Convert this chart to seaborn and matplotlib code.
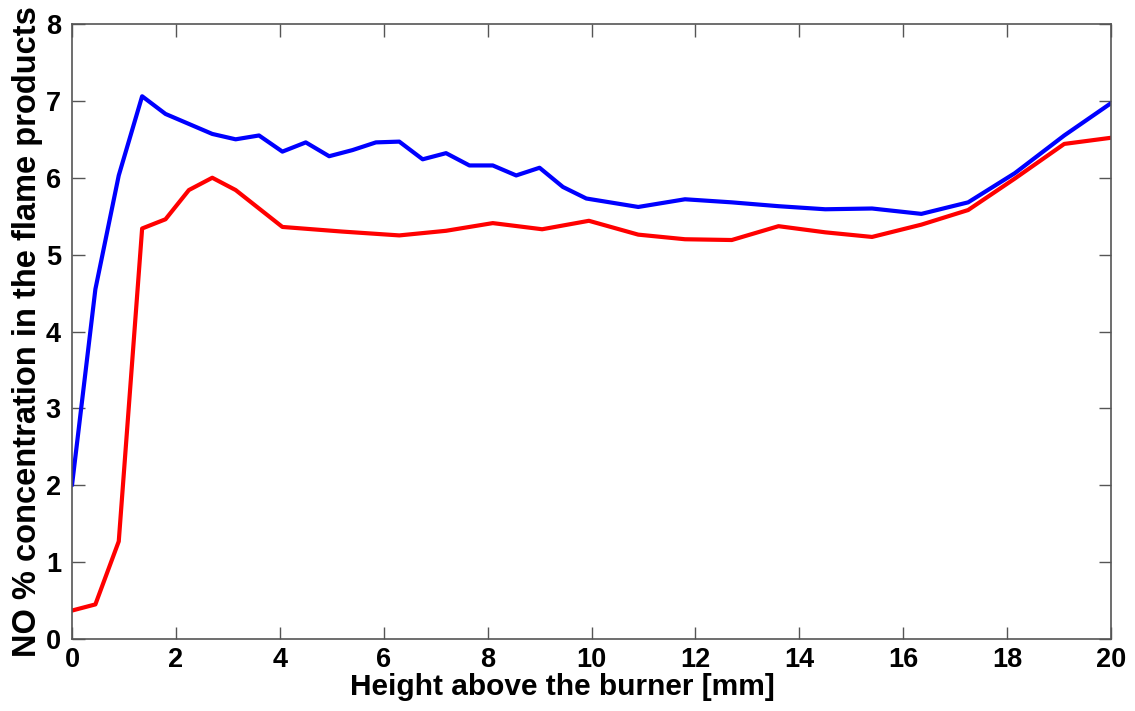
import matplotlib
matplotlib.use("Agg")
import matplotlib.pyplot as plt
import seaborn as sns
import pandas as pd

# Blue series
blue_x = [0, 0.45, 0.9, 1.35, 1.8, 2.25, 2.7, 3.15, 3.6, 4.05, 4.5, 4.95, 5.4, 5.85,
          6.3, 6.75, 7.2, 7.65, 8.1, 8.55, 9.0, 9.45, 9.9, 10.9, 11.8, 12.7, 13.6,
          14.5, 15.4, 16.35, 17.25, 18.15, 19.1, 20]
blue_y = [2.0, 4.55, 6.03, 7.06, 6.83, 6.70, 6.57, 6.50, 6.55, 6.34, 6.46, 6.28, 6.36, 6.46,
          6.47, 6.24, 6.32, 6.16, 6.16, 6.03, 6.13, 5.88, 5.73, 5.62, 5.72, 5.68, 5.63,
          5.59, 5.60, 5.53, 5.68, 6.06, 6.55, 6.97]

# Red series
red_x = [0, 0.45, 0.9, 1.35, 1.8, 2.25, 2.7, 3.15, 3.6, 4.05, 5.2, 6.3, 7.2, 8.1,
         9.05, 9.95, 10.9, 11.8, 12.7, 13.6, 14.5, 15.4, 16.35, 17.25, 18.15, 19.1, 20]
red_y = [0.37, 0.45, 1.27, 5.34, 5.46, 5.84, 6.00, 5.84, 5.60, 5.36, 5.30, 5.25, 5.31, 5.41,
         5.33, 5.44, 5.26, 5.20, 5.19, 5.37, 5.29, 5.23, 5.39, 5.58, 5.99, 6.44, 6.52]

x_ticks = [0, 2, 4, 6, 8, 10, 12, 14, 16, 18, 20]
y_ticks = [0, 1, 2, 3, 4, 5, 6, 7, 8]
x_label = "Height above the burner [mm]"
y_label = "NO % concentration in the flame products"

df = pd.concat([
    pd.DataFrame({"x": blue_x, "y": blue_y, "series": "blue"}),
    pd.DataFrame({"x": red_x, "y": red_y, "series": "red"}),
], ignore_index=True)

sns.set_style("white")
plt.rcParams["font.family"] = ["Liberation Sans", "DejaVu Sans"]
plt.rcParams["font.weight"] = "bold"
plt.rcParams["text.color"] = "black"
plt.rcParams["axes.labelcolor"] = "black"
plt.rcParams["xtick.color"] = "black"
plt.rcParams["ytick.color"] = "black"

fig = plt.figure(figsize=(11.35, 7.11), dpi=100)
ax = fig.add_axes([72 / 1135, 1 - 639 / 711, (1111 - 72) / 1135, (639 - 24) / 711])

sns.lineplot(data=df, x="x", y="y", hue="series", palette={"blue": "#0000ff", "red": "#ff0000"},
             linewidth=3.0, ax=ax, legend=False, sort=False, estimator=None)

ax.set_xlim(0, 20)
ax.set_ylim(0, 8)
ax.set_xticks(x_ticks)
ax.set_yticks(y_ticks)
ax.set_xticklabels([str(t) for t in x_ticks], fontsize=19.5, fontweight="bold")
ax.set_yticklabels([str(t) for t in y_ticks], fontsize=19.5, fontweight="bold")
ax.tick_params(direction="in", length=9, width=1, color="#555555", labelcolor="black",
               top=True, right=True, bottom=True, left=True)
ax.tick_params(axis="x", pad=6)
ax.tick_params(axis="y", pad=8)
for s in ax.spines.values():
    s.set_color("#555555")
    s.set_linewidth(1.2)
    s.set_visible(True)
ax.set_xlabel(x_label, fontsize=21.5, fontweight="bold", color="black")
ax.set_ylabel(y_label, fontsize=23.5, fontweight="bold", color="black")
ax.xaxis.set_label_coords(0.4716, -0.056)
ax.yaxis.set_label_coords(-0.028, 0.5)

fig.savefig("out.png", dpi=100)
